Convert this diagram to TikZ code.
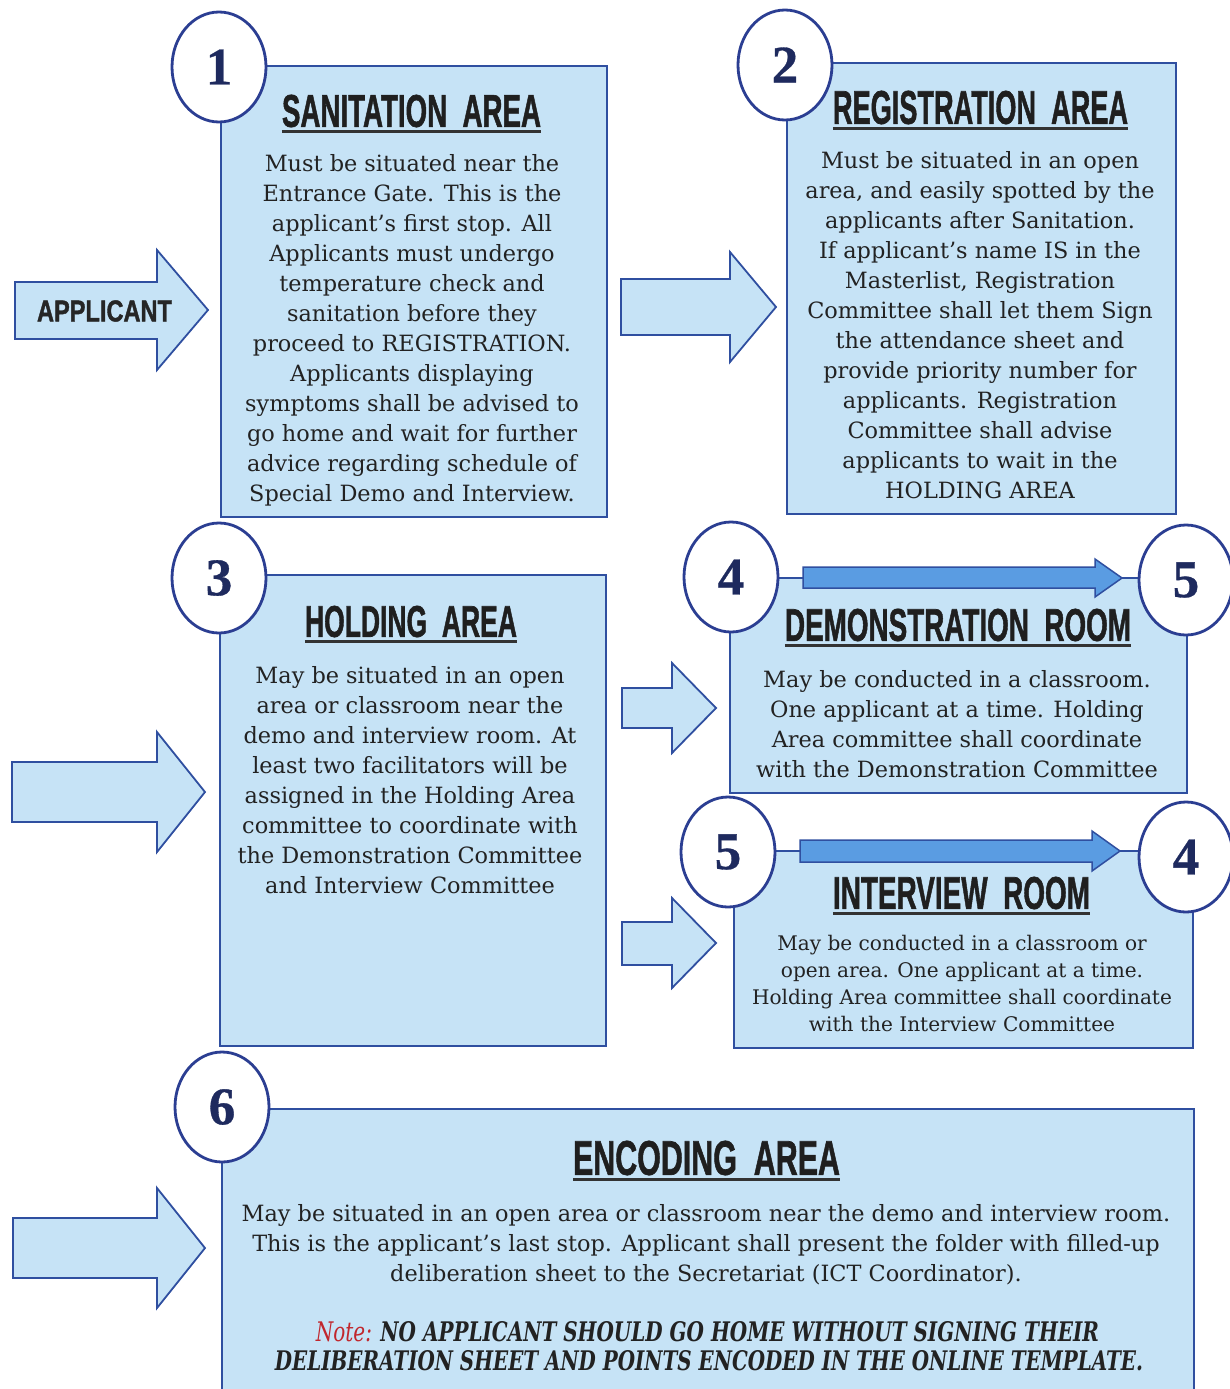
\documentclass[tikz,border=0pt]{standalone}
\usepackage{fontspec}
\usepackage{graphicx}
\setmainfont{DejaVu Serif}
\newfontfamily\headfont[BoldFeatures={FakeBold=1.5}]{Liberation Sans}
\newfontfamily\numfont[BoldFeatures={FakeBold=0.6}]{Liberation Serif}
\usetikzlibrary{shapes.geometric}
\definecolor{boxfill}{HTML}{C6E3F6}
\definecolor{boxline}{HTML}{2F4FA0}
\definecolor{circline}{HTML}{2B3E92}
\definecolor{numcol}{HTML}{1E2A5E}
\definecolor{txt}{HTML}{222222}
\definecolor{midblue}{HTML}{5A9CE2}
\definecolor{notered}{HTML}{C1272D}
\newcommand{\hdtext}[3]{\resizebox{#1pt}{#2pt}{\headfont\bfseries #3}}
\begin{document}
\begin{tikzpicture}[x=1pt,y=-1pt,
  area/.style={draw=boxline, line width=1.8pt, fill=boxfill, inner sep=0pt, anchor=north west},
  numcirc/.style={ellipse, draw=circline, line width=2.8pt, fill=white, minimum width=94pt, minimum height=110pt, inner sep=0pt, font=\numfont\bfseries\fontsize{53}{53}\selectfont, text=numcol},
  blockarrow/.style={draw=boxline, line width=1.8pt, fill=boxfill, line join=miter},
  bluearrow/.style={draw=boxline, line width=1.5pt, fill=midblue, line join=miter},
  headtxt/.style={inner sep=0pt, text=black!88},
  ulin/.style={line width=2.5pt, draw=black!80},
  body/.style={align=center, text=txt, inner sep=0pt, anchor=north, font=\fontsize{22.4}{30}\selectfont},
  smallbody/.style={align=center, text=txt, inner sep=0pt, anchor=north, font=\fontsize{20.1}{27}\selectfont}
]
\useasboundingbox (0,0) rectangle (1230,1389);
\fill[white] (0,0) rectangle (1230,1389);
\clip (0,0) rectangle (1230,1389);

% ---------- boxes ----------
\node[area, minimum width=386pt, minimum height=451pt] (b1) at (220,65) {};
\node[area, minimum width=389pt, minimum height=451pt] (b2) at (786,62) {};
\node[area, minimum width=386pt, minimum height=471pt] (b3) at (219,574) {};
\node[area, minimum width=457pt, minimum height=215pt] (b4) at (729,577) {};
\node[area, minimum width=459pt, minimum height=197pt] (b5) at (733,850) {};
\node[area, minimum width=972pt, minimum height=300pt] (b6) at (221,1108) {};

% ---------- block arrows ----------
\draw[blockarrow] (15,282) -- (157,282) -- (157,250) -- (208,310) -- (157,370) -- (157,339) -- (15,339) -- cycle;
\node[inner sep=0pt, text=black!85] (app) at (104.5,311) {\resizebox{135pt}{21pt}{\headfont\bfseries APPLICANT}};
\draw[blockarrow] (621,279) -- (730,279) -- (730,252) -- (776,307) -- (730,362) -- (730,335) -- (621,335) -- cycle;
\draw[blockarrow] (12,762) -- (157,762) -- (157,732) -- (205,792) -- (157,852) -- (157,822) -- (12,822) -- cycle;
\draw[blockarrow] (622,688) -- (672,688) -- (672,663) -- (716,708) -- (672,753) -- (672,728) -- (622,728) -- cycle;
\draw[blockarrow] (622,922) -- (672,922) -- (672,898) -- (716,943) -- (672,988) -- (672,965) -- (622,965) -- cycle;
\draw[blockarrow] (13,1218) -- (157,1218) -- (157,1188) -- (205,1248) -- (157,1308) -- (157,1278) -- (13,1278) -- cycle;

% ---------- blue arrows between 4 and 5 ----------
\draw[bluearrow] (803,567) -- (1095,567) -- (1095,559) -- (1122,578) -- (1095,597) -- (1095,588) -- (803,588) -- cycle;
\draw[bluearrow] (800,840) -- (1092,840) -- (1092,831) -- (1120,851) -- (1092,871) -- (1092,862) -- (800,862) -- cycle;

% ---------- number circles ----------
\node[numcirc] (c1) at (219,67) {1};
\node[numcirc] (c2) at (785,65) {2};
\node[numcirc] (c3) at (219,578) {3};
\node[numcirc] (c4) at (731,577) {4};
\node[numcirc] (c5) at (1186,580) {5};
\node[numcirc] (c5b) at (728,852) {5};
\node[numcirc] (c4b) at (1186,857) {4};
\node[numcirc] (c6) at (222,1107) {6};

% ---------- headings ----------
\node[headtxt] (h1) at (411.5,111) {\hdtext{259}{32}{SANITATION\ \ AREA}};
\node[headtxt] (h2) at (980.5,107.5) {\hdtext{295}{33}{REGISTRATION\ \ AREA}};
\node[headtxt] (h3) at (411,621.5) {\hdtext{212}{31}{HOLDING\ \ AREA}};
\node[headtxt] (h4) at (958,625) {\hdtext{346}{32}{DEMONSTRATION\ \ ROOM}};
\node[headtxt] (h5) at (961.5,893) {\hdtext{257}{32}{INTERVIEW\ \ ROOM}};
\node[headtxt] (h6) at (706.5,1158) {\hdtext{267}{34}{ENCODING\ \ AREA}};
\foreach \h in {h1,h2,h3,h4,h5,h6}
  \draw[ulin] ([yshift=-4pt]\h.south west) -- ([yshift=-4pt]\h.south east);

% ---------- body texts ----------
\node[body] (t1) at (412,154) {Must be situated near the\\
Entrance Gate. This is the\\
applicant's first stop. All\\
Applicants must undergo\\
temperature check and\\
sanitation before they\\
proceed to REGISTRATION.\\
Applicants displaying\\
symptoms shall be advised to\\
go home and wait for further\\
advice regarding schedule of\\
Special Demo and Interview.};

\node[body] (t2) at (980,151) {Must be situated in an open\\
area, and easily spotted by the\\
applicants after Sanitation.\\
If applicant's name IS in the\\
Masterlist, Registration\\
Committee shall let them Sign\\
the attendance sheet and\\
provide priority number for\\
applicants. Registration\\
Committee shall advise\\
applicants to wait in the\\
HOLDING AREA};

\node[body] (t3) at (410,666) {May be situated in an open\\
area or classroom near the\\
demo and interview room. At\\
least two facilitators will be\\
assigned in the Holding Area\\
committee to coordinate with\\
the Demonstration Committee\\
and Interview Committee};

\node[body] (t4) at (957,670) {May be conducted in a classroom.\\
One applicant at a time. Holding\\
Area committee shall coordinate\\
with the Demonstration Committee};

\node[smallbody] (t5) at (962,935) {May be conducted in a classroom or\\
open area. One applicant at a time.\\
Holding Area committee shall coordinate\\
with the Interview Committee};

\node[body] (t6) at (706,1204) {May be situated in an open area or classroom near the demo and interview room.\\
This is the applicant's last stop. Applicant shall present the folder with filled-up\\
deliberation sheet to the Secretariat (ICT Coordinator).};

\node[inner sep=0pt, text=txt] (n1) at (707.5,1332) {\resizebox{783pt}{20pt}{\itshape{\color{notered}Note:} \bfseries NO APPLICANT SHOULD GO HOME WITHOUT SIGNING THEIR}};
\node[inner sep=0pt, text=txt] (n2) at (709,1361) {\resizebox{868pt}{20pt}{\itshape\bfseries DELIBERATION SHEET AND POINTS ENCODED IN THE ONLINE TEMPLATE.}};
\end{tikzpicture}
\end{document}
